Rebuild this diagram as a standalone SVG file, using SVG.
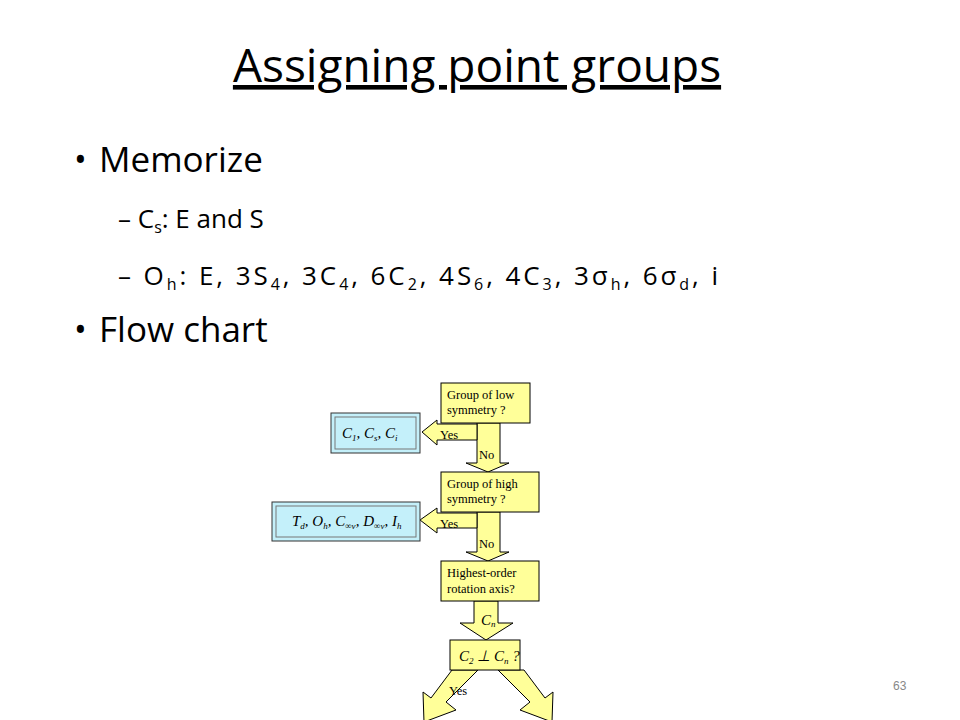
<svg xmlns="http://www.w3.org/2000/svg" width="960" height="720" viewBox="0 0 960 720">
<style>
.t{font-family:"Open Sans","Liberation Sans",sans-serif;fill:#000}
.y{fill:#ffff99;stroke:#000;stroke-width:1}
.f{font-family:"Liberation Serif",serif;font-size:12.5px;fill:#000}
.m{font-family:"Liberation Serif",serif;font-style:italic;font-size:15px;fill:#000}
.b{fill:#c4f0fa;stroke:#333;stroke-width:1}
</style>
<rect width="960" height="720" fill="#fff"/>
<text class="t" x="477" y="82" font-size="46" text-anchor="middle" text-decoration="underline">Assigning point groups</text>
<g class="t">
<text x="74" y="172" font-size="34">•</text>
<text x="99" y="172" font-size="35">Memorize</text>
<text x="118" y="228" font-size="26">– C<tspan font-size="16" dy="5">s</tspan><tspan dy="-5">: E and S</tspan></text>
<text x="118" y="285" font-size="26" textLength="600">– O<tspan font-size="16" dy="5">h</tspan><tspan dy="-5">: E, 3S</tspan><tspan font-size="16" dy="5">4</tspan><tspan dy="-5">, 3C</tspan><tspan font-size="16" dy="5">4</tspan><tspan dy="-5">, 6C</tspan><tspan font-size="16" dy="5">2</tspan><tspan dy="-5">, 4S</tspan><tspan font-size="16" dy="5">6</tspan><tspan dy="-5">, 4C</tspan><tspan font-size="16" dy="5">3</tspan><tspan dy="-5">, 3σ</tspan><tspan font-size="16" dy="5">h</tspan><tspan dy="-5">, 6σ</tspan><tspan font-size="16" dy="5">d</tspan><tspan dy="-5">, i</tspan></text>
<text x="74" y="342" font-size="34">•</text>
<text x="99" y="342" font-size="35">Flow chart</text>
</g>
<g id="connectors">
<polygon class="y" points="477,423 500,423 500,463 509,463 488,472 466,463 477,463"/>
<polygon class="y" points="477,424 437,424 437,420 422,432 437,445 437,440 477,440"/>
<polygon class="y" points="477,512 500,512 500,552 509,552 488,561 466,552 477,552"/>
<polygon class="y" points="477,513 437,513 437,508 420,520 437,533 437,528 477,528"/>
<polygon class="y" points="474,601 498,601 498,623 513,623 486,640 460,623 474,623"/>
<polygon class="y" points="452,670 478,670 446,702 456,710 424,722 423,692 431,698"/>
<polygon class="y" points="524,670 498,670 530,702 520,710 552,722 553,692 545,698"/>
<text class="f" x="440" y="439">Yes</text>
<text class="f" x="479" y="459">No</text>
<text class="f" x="440" y="528">Yes</text>
<text class="f" x="479" y="548">No</text>
<text class="m" x="481" y="625">C<tspan font-size="9" dy="2">n</tspan></text>
<text class="f" x="449" y="695">Yes</text>
</g>
<g id="n1"><rect class="y" x="441" y="383" width="89" height="40"/><text class="f" x="447" y="399">Group of low</text><text class="f" x="447" y="414">symmetry ?</text></g>
<g id="n2"><rect class="b" x="331" y="413" width="89" height="40"/><rect x="335" y="417" width="81" height="32" fill="#c4f0fa" stroke="#777"/><text class="m" x="342" y="438">C<tspan font-size="9" dy="3">1</tspan><tspan dy="-3">, C</tspan><tspan font-size="9" dy="3">s</tspan><tspan dy="-3">, C</tspan><tspan font-size="9" dy="3">i</tspan></text></g>
<g id="n3"><rect class="y" x="441" y="472" width="98" height="40"/><text class="f" x="447" y="488">Group of high</text><text class="f" x="447" y="503">symmetry ?</text></g>
<g id="n4"><rect class="b" x="272" y="502" width="148" height="39"/><rect x="276" y="506" width="140" height="31" fill="#c4f0fa" stroke="#777"/><text class="m" x="292" y="526">T<tspan font-size="9" dy="3">d</tspan><tspan dy="-3">, O</tspan><tspan font-size="9" dy="3">h</tspan><tspan dy="-3">, C</tspan><tspan font-size="9" dy="3">∞v</tspan><tspan dy="-3">, D</tspan><tspan font-size="9" dy="3">∞v</tspan><tspan dy="-3">, I</tspan><tspan font-size="9" dy="3">h</tspan></text></g>
<g id="n5"><rect class="y" x="441" y="561" width="98" height="40"/><text class="f" x="447" y="577">Highest-order</text><text class="f" x="447" y="593">rotation axis?</text></g>
<g id="n6"><rect class="y" x="450" y="640" width="70" height="30"/><text class="m" x="459" y="661">C<tspan font-size="9" dy="3">2</tspan><tspan dy="-3"> ⊥ C</tspan><tspan font-size="9" dy="3">n</tspan><tspan dy="-3"> ?</tspan></text></g>
<text x="893" y="690" font-family="Liberation Sans,sans-serif" font-size="12" fill="#888">63</text>
</svg>
